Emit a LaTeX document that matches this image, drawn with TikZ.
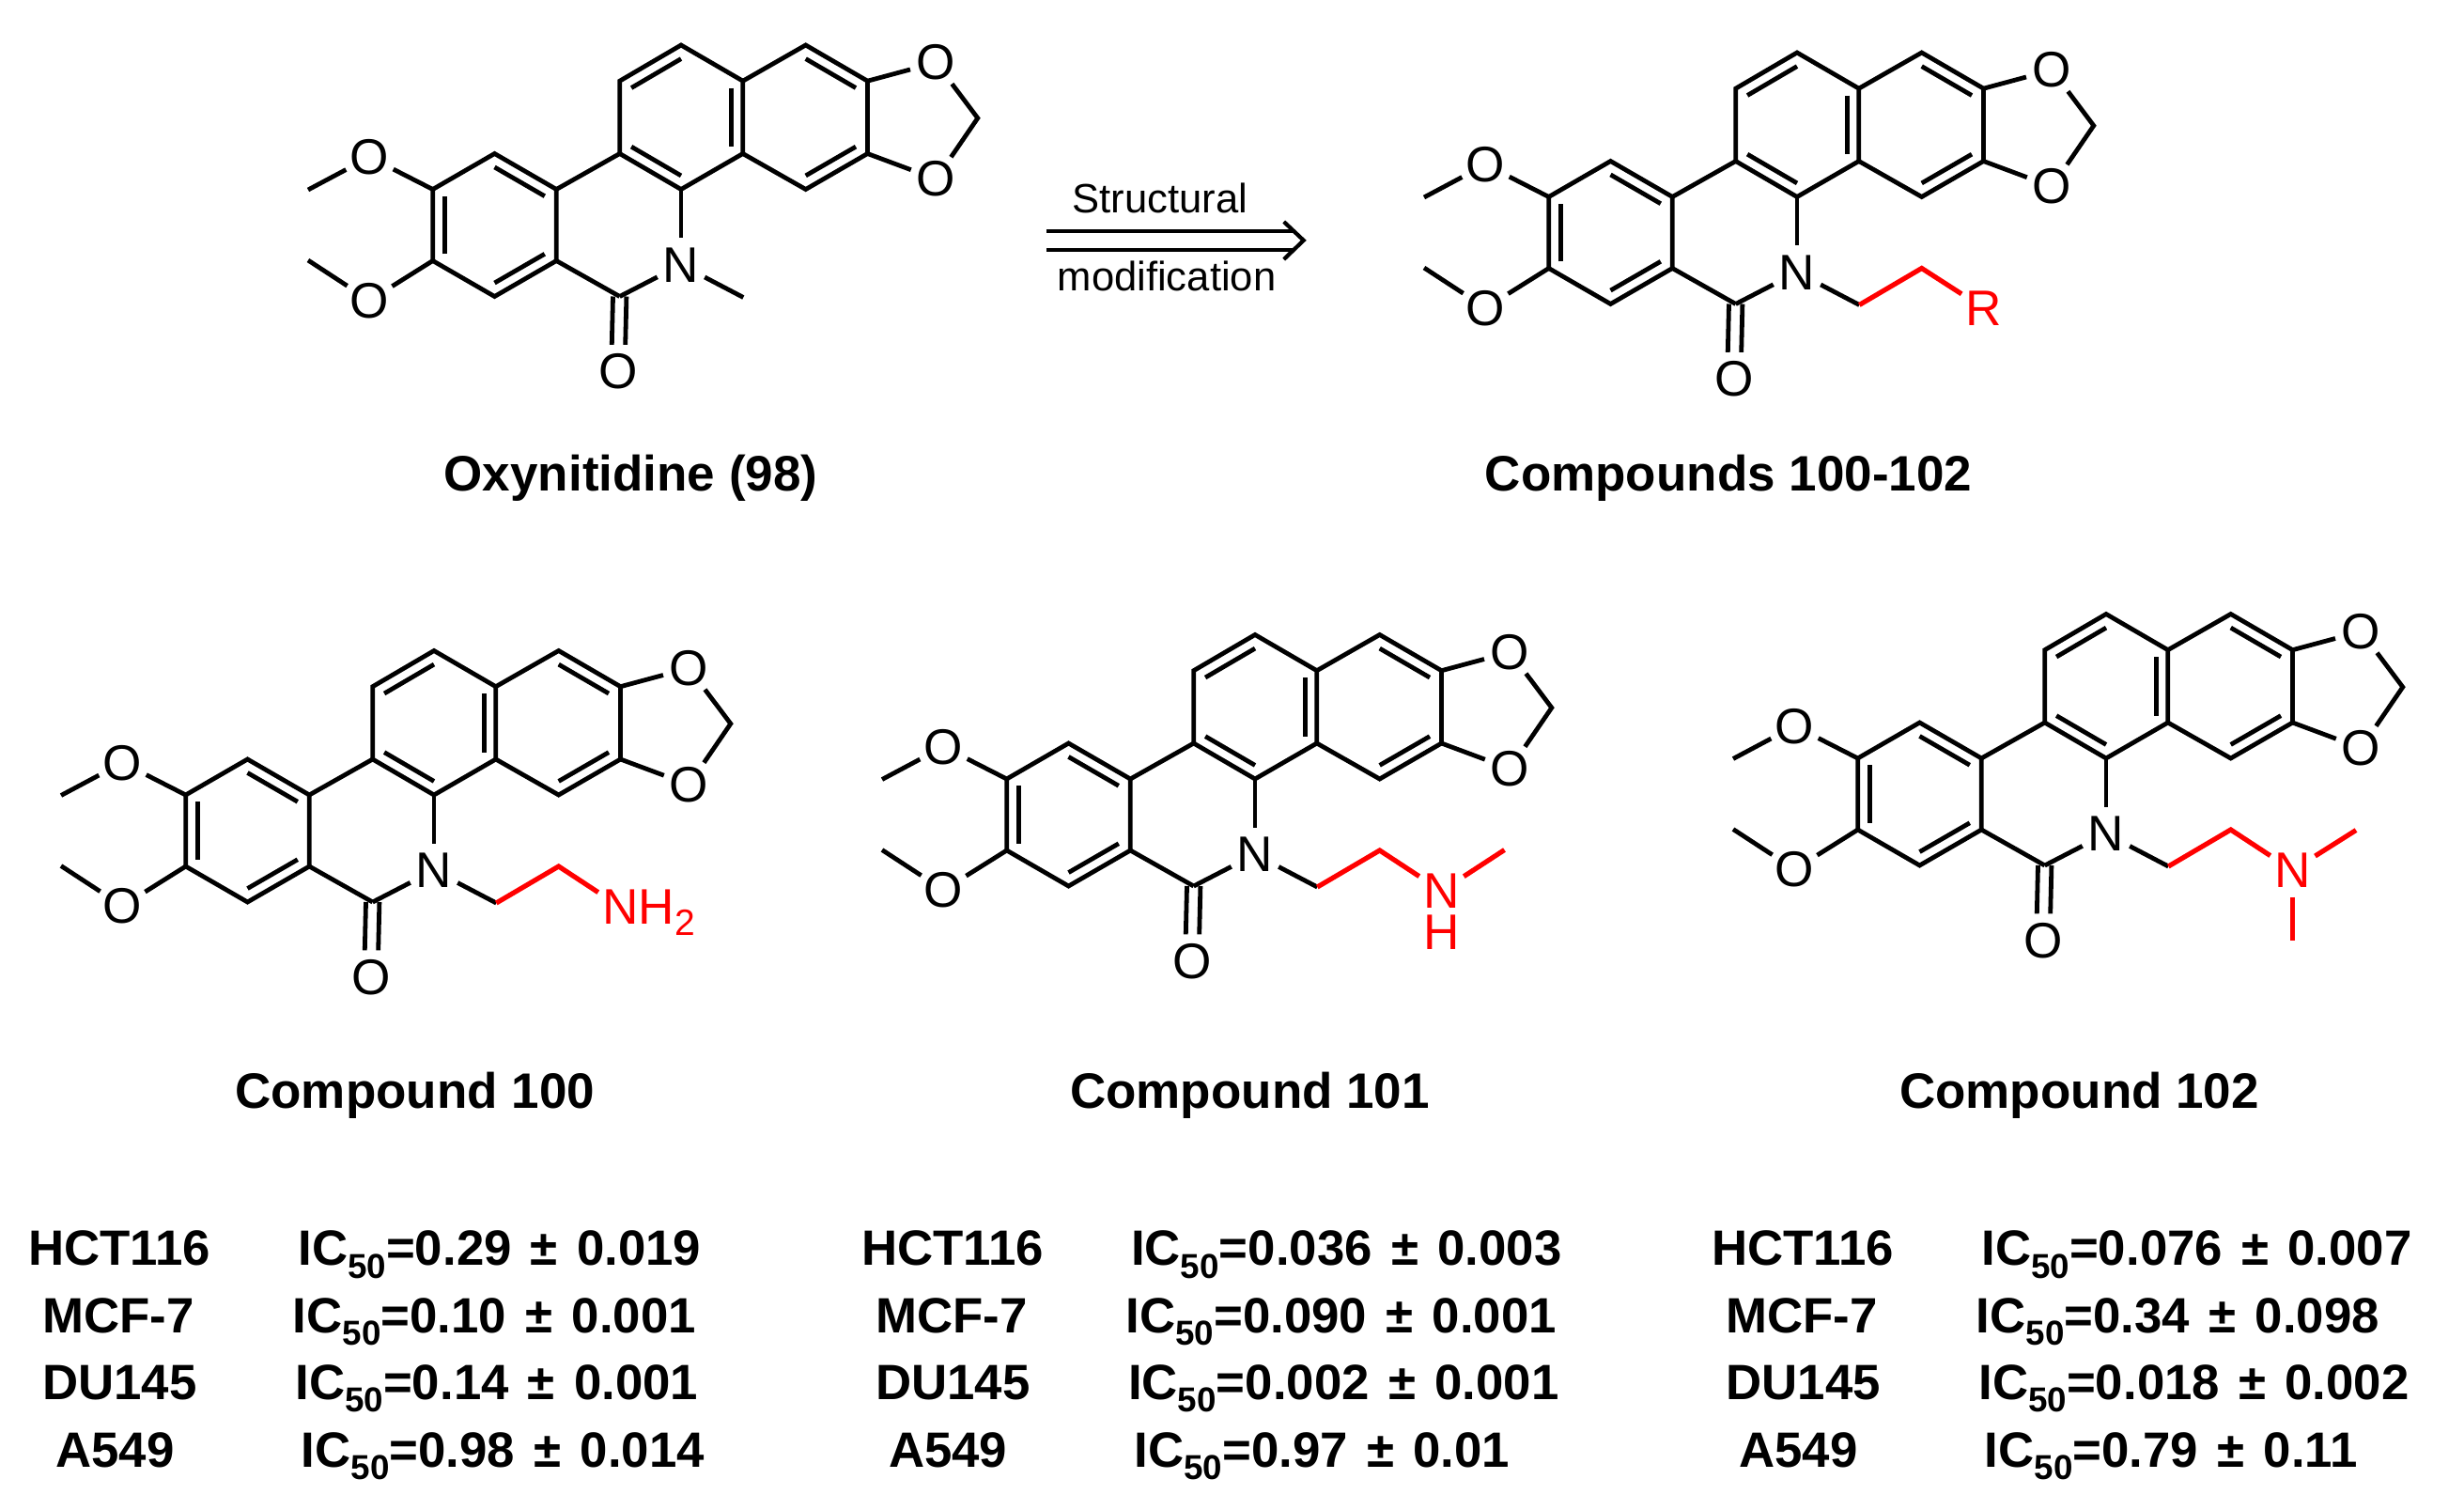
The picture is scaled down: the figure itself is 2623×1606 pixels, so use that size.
\documentclass[tikz,border=0pt]{standalone}
\usepackage{fontspec}
\setmainfont{Liberation Sans}
\usetikzlibrary{calc}
\definecolor{pure}{RGB}{255,0,0}
\tikzset{
  bond/.style={line width=2.4pt,line join=miter,black},
  redbond/.style={line width=2.6pt,line join=miter,pure},
  atom/.style={circle,inner sep=0pt,minimum size=28pt,yshift=-0.6pt,font=\fontsize{26.6pt}{30pt}\selectfont},
  redatom/.style={atom,text=pure},
  title/.style={anchor=base,inner sep=0pt,font=\fontsize{26.5pt}{30pt}\selectfont\bfseries},
  rowtext/.style={anchor=base west,inner sep=0pt,font=\fontsize{26.4pt}{30pt}\selectfont\bfseries},
  arrowtext/.style={anchor=base,inner sep=0pt,font=\fontsize{21.8pt}{26pt}\selectfont},
  arrowline/.style={line width=2.1pt,line join=miter}
}
\newcommand{\innerbond}[3]{\draw[bond] ($(#3)!.81!(#1)$) -- ($(#3)!.81!(#2)$);}
% #1 prefix, #2 dx, #3 dy, #4 side-chain code
\newcommand{\chemmol}[4]{%
\begin{scope}[shift={(#2,#3)}]
  \coordinate (#1a1) at (460.7,201.5);
  \coordinate (#1a2) at (526.5,163.5);
  \coordinate (#1a3) at (592.3,201.5);
  \coordinate (#1a4) at (592.3,277.5);
  \coordinate (#1a5) at (526.5,315.5);
  \coordinate (#1a6) at (460.7,277.5);
  \coordinate (#1ca) at (526.5,239.5);
  \coordinate (#1b1) at (659.7,86.2);
  \coordinate (#1b2) at (725,48);
  \coordinate (#1b3) at (790.8,86.2);
  \coordinate (#1b4) at (790.8,163.5);
  \coordinate (#1b5) at (725,201.5);
  \coordinate (#1b6) at (659.7,163.5);
  \coordinate (#1cb) at (725,124.8);
  \coordinate (#1c1) at (857.7,48);
  \coordinate (#1c2) at (923.5,86.2);
  \coordinate (#1c3) at (923.5,163.5);
  \coordinate (#1c4) at (857.7,201.5);
  \coordinate (#1cc) at (857.7,124.8);
  \coordinate (#1co) at (659.7,315.5);
  \coordinate (#1ch) at (1040.8,125.7);
  \coordinate (#1me1) at (328,202);
  \coordinate (#1me2) at (328,277);
  \coordinate (#1ch1) at (791.3,316.5);
  \coordinate (#1ch2) at (857.7,277.5);
  \node[atom] (#1O1) at (393.4,166) {O};
  \node[atom] (#1O2) at (393.4,318.5) {O};
  \node[atom] (#1O3) at (996.4,65.4) {O};
  \node[atom] (#1O4) at (996.4,189.4) {O};
  \node[atom] (#1O5) at (658.5,394) {O};
  \node[atom] (#1N) at (725,280.6) {N};
  % rings
  \draw[bond] (#1a1) -- (#1a2) -- (#1a3) -- (#1a4) -- (#1a5) -- (#1a6) -- cycle;
  \draw[bond] (#1b1) -- (#1b2) -- (#1b3) -- (#1b4) -- (#1b5) -- (#1b6) -- cycle;
  \draw[bond] (#1b3) -- (#1c1) -- (#1c2) -- (#1c3) -- (#1c4) -- (#1b4);
  \draw[bond] (#1a3) -- (#1b6);
  \draw[bond] (#1a4) -- (#1co);
  \innerbond{#1a2}{#1a3}{#1ca}
  \innerbond{#1a4}{#1a5}{#1ca}
  \innerbond{#1a6}{#1a1}{#1ca}
  \innerbond{#1b1}{#1b2}{#1cb}
  \innerbond{#1b3}{#1b4}{#1cb}
  \innerbond{#1b5}{#1b6}{#1cb}
  \innerbond{#1c1}{#1c2}{#1cc}
  \innerbond{#1c3}{#1c4}{#1cc}
  % heteroatom bonds
  \draw[bond] (#1a1) -- (#1O1);
  \draw[bond] (#1O1) -- (#1me1);
  \draw[bond] (#1a6) -- (#1O2);
  \draw[bond] (#1O2) -- (#1me2);
  \draw[bond] (#1c2) -- (#1O3);
  \draw[bond] (#1c3) -- (#1O4);
  \draw[bond] (#1O3) -- (#1ch) -- (#1O4);
  \draw[bond] (#1b5) -- (#1N);
  \draw[bond] (#1co) -- (#1N);
  \draw[bond] (#1N) -- (#1ch1);
  \draw[bond] ([xshift=-3.6pt]#1co) -- ([xshift=-3.6pt]#1O5.north);
  \draw[bond] ([xshift=3.6pt]#1co) -- ([xshift=3.6pt]#1O5.north);
  #4
\end{scope}}
\newcommand{\icval}[2]{IC\raisebox{-6.8pt}{\fontsize{18.4pt}{20pt}\selectfont 50}=#1\hspace{2.8pt} ± \hspace{2.8pt}#2}
% #1 dx, #2 x cell, #3 x IC, #4 baseline, #5 cell, #6 value, #7 error, #8 name
\newcommand{\tablerow}[8]{%
  \node[rowtext] (cell#8) at (#1+#2,#4) {#5};
  \node[rowtext] (ic#8) at (#1+#3,#4) {\icval{#6}{#7}};}
\begin{document}
\begin{tikzpicture}[x=0.5pt,y=-0.5pt]
\useasboundingbox (0,0) rectangle (2623,1606);
\fill[white] (0,0) rectangle (2623,1606);

\chemmol{m}{0}{0}{}
\chemmol{r}{1188}{8}{%
  \node[redatom] (rR) at (924,319) {R};
  \draw[redbond] (rch1) -- (rch2) -- (rR);
}
\chemmol{p}{-263}{644.5}{%
  \node[redatom] (pNa) at (923.5,319.5) {N};
  \node[anchor=base west,inner sep=0pt,text=pure,font=\fontsize{26.6pt}{30pt}\selectfont] (pH) at (942.5,339.4) {H\raisebox{-5.6pt}{\fontsize{19.5pt}{22pt}\selectfont 2}};
  \draw[redbond] (pch1) -- (pch2) -- (pNa);
}
\chemmol{q}{611}{627.5}{%
  \node[redatom] (qNa) at (923.5,319.5) {N};
  \node[redatom] (qH) at (923.5,363) {H};
  \coordinate (qme) at (990.5,277);
  \draw[redbond] (qch1) -- (qch2) -- (qNa);
  \draw[redbond] (qNa) -- (qme);
}
\chemmol{s}{1517}{605.5}{%
  \node[redatom] (sNa) at (923.5,319.5) {N};
  \coordinate (sme1) at (991,278);
  \coordinate (sme2) at (923.5,395);
  \draw[redbond] (sch1) -- (sch2) -- (sNa);
  \draw[redbond] (sNa) -- (sme1);
  \draw[redbond] (sNa) -- (sme2);
}

% reaction arrow
\coordinate (arA) at (1114,246);
\coordinate (arB) at (1114,265.7);
\coordinate (arC) at (1376,246);
\coordinate (arD) at (1376,265.7);
\coordinate (arT) at (1387.7,255.8);
\coordinate (arU) at (1366.7,236);
\coordinate (arL) at (1366.7,276);
\draw[arrowline] (arA) -- (arC);
\draw[arrowline] (arB) -- (arD);
\draw[arrowline] (arU) -- (arT) -- (arL);
\node[arrowtext] (tStruct) at (1235,226.5) {Structural};
\node[arrowtext] (tMod) at (1242,309.5) {modification};

% titles
\node[title] (t98) at (671.5,522) {Oxynitidine (98)};
\node[title] (tR) at (1840,522) {Compounds 100-102};
\node[title] (t100) at (441.7,1179) {Compound 100};
\node[title] (t101) at (1330.5,1179) {Compound 101};
\node[title] (t102) at (2213.5,1179) {Compound 102};

% data tables
\tablerow{0}{30}{317}{1346.5}{HCT116}{0.29}{0.019}{a1}
\tablerow{0}{45}{311.5}{1418}{MCF-7}{0.10}{0.001}{a2}
\tablerow{0}{45}{314}{1489}{DU145}{0.14}{0.001}{a3}
\tablerow{0}{59}{320.5}{1561}{A549}{0.98}{0.014}{a4}
\tablerow{886.7}{30}{317}{1346.5}{HCT116}{0.036}{0.003}{b1}
\tablerow{886.7}{45}{311.5}{1418}{MCF-7}{0.090}{0.001}{b2}
\tablerow{886.7}{45}{314}{1489}{DU145}{0.002}{0.001}{b3}
\tablerow{886.7}{59}{320.5}{1561}{A549}{0.97}{0.01}{b4}
\tablerow{1792}{30}{317}{1346.5}{HCT116}{0.076}{0.007}{c1}
\tablerow{1792}{45}{311.5}{1418}{MCF-7}{0.34}{0.098}{c2}
\tablerow{1792}{45}{314}{1489}{DU145}{0.018}{0.002}{c3}
\tablerow{1792}{59}{320.5}{1561}{A549}{0.79}{0.11}{c4}
\end{tikzpicture}
\end{document}
